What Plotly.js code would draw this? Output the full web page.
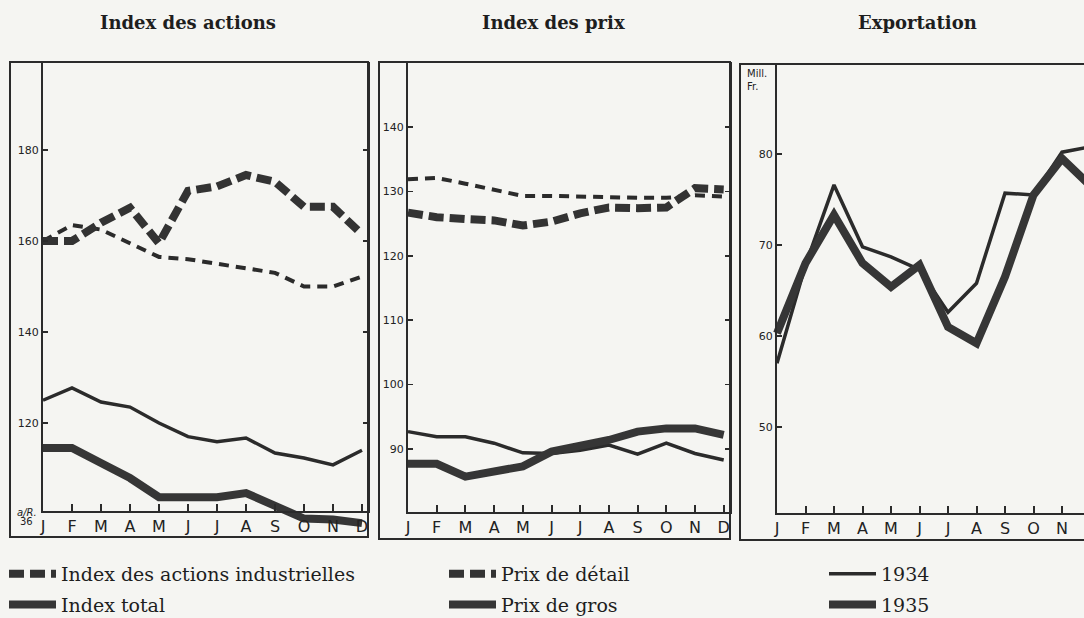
<!DOCTYPE html>
<html>
<head>
<meta charset="utf-8">
<script src="https://cdn.plot.ly/plotly-3.0.1.min.js"></script>
<style>
html,body{margin:0;padding:0;background:#f5f5f2;}
#chart{width:1084px;height:618px;}
</style>
</head>
<body>
<div id="chart"></div>
<script>
// ---------- data ----------
const months = ['J','F','M','A','M','J','J','A','S','O','N','D'];
const monthIdx = [0,1,2,3,4,5,6,7,8,9,10,11];

// Index des actions
const actionsInd1934 = [160, 163.5, 162.5, 159.5, 156.5, 156, 155, 153.8, 153, 150, 150, 152.2];
const actionsInd1935 = [160, 160, 164, 167.3, 159.5, 171, 172, 174.5, 173, 167.5, 167.5, 161.5];
const indexTotal1934 = [125, 127.7, 124.6, 123.5, 120, 117, 115.9, 116.7, 113.4, 112.3, 110.8, 114];
const indexTotal1935 = [114.5, 114.5, 111.2, 107.9, 103.7, 103.7, 103.7, 104.6, 102, 99, 98.8, 98];

// Index des prix
const prixDetail1934 = [131.9, 132.1, 131.2, 130.2, 129.3, 129.3, 129.2, 129, 129, 129, 129.4, 129.2];
const prixDetail1935 = [126.7, 126, 125.7, 125.5, 124.7, 125.3, 126.6, 127.5, 127.4, 127.5, 130.5, 130.3];
const prixGros1934 = [92.7, 91.9, 91.9, 90.9, 89.4, 89.3, 89.8, 90.6, 89.2, 90.9, 89.3, 88.3];
const prixGros1935 = [87.7, 87.7, 85.7, 86.5, 87.3, 89.6, 90.4, 91.4, 92.7, 93.2, 93.2, 92.2];

// Exportation (Mill. Fr.)
const export1934 = [57, 67.8, 76.6, 69.8, 68.7, 67.3, 62.6, 65.8, 75.7, 75.5, 80.2, 80.8];
const export1935 = [60.3, 68, 73.3, 68, 65.4, 67.8, 61, 59.2, 66.5, 75.5, 79.5, 76.5];

const ticksActions = [120, 140, 160, 180];
const ticksPrix = [90, 100, 110, 120, 130, 140];
const ticksExport = [50, 60, 70, 80];

const titles = ['Index des actions', 'Index des prix', 'Exportation'];
const legendNames = {
  actions: 'Index des actions industrielles',
  total: 'Index total',
  detail: 'Prix de détail',
  gros: 'Prix de gros',
  y1934: '1934',
  y1935: '1935'
};

// ---------- geometry (pixels of the 1084x618 picture) ----------
const W = 1084, H = 618;
const fx = p => p / W;
const fy = p => 1 - p / H;

const panels = [
  {box:[10,368,62,537], corner:[43,511], x0:43, dx:29, yRefPx:150, yRefVal:180, ppu:4.55, yt:ticksActions, mirror:true, titleX:188},
  {box:[379,730,62,539], corner:[408,512], x0:408, dx:28.7, yRefPx:127, yRefVal:140, ppu:6.44, yt:ticksPrix, mirror:true, titleX:553},
  {box:[740,1100,64,540], corner:[777,513], x0:777, dx:28.5, yRefPx:154, yRefVal:80, ppu:9.1, yt:ticksExport, mirror:false, titleX:917}
];

const INK = '#2b2b2b';
const thickSolid = {color:'#363636', width:8};
const thinSolid = {color:INK, width:3.5};
const thickDash = {color:'#333', width:8, dash:'15px,6px'};
const thinDash = {color:INK, width:4, dash:'10px,7px'};

const layout = {
  width: W, height: H,
  margin: {l:0, r:0, t:0, b:0, autoexpand:false},
  paper_bgcolor: '#f5f5f2',
  plot_bgcolor: 'rgba(0,0,0,0)',
  showlegend: true,
  shapes: [],
  annotations: []
};

const axisTraces = [];

panels.forEach((p, i) => {
  const m = px => (px - p.x0) / p.dx;
  const v = py => p.yRefVal - (py - p.yRefPx) / p.ppu;
  const xr = Math.min(p.box[1], W);
  const a = i === 0 ? '' : String(i + 1);
  const b = String(i + 4);
  // data axes (invisible, full box)
  layout['xaxis' + a] = {domain:[fx(p.box[0]), fx(xr)], range:[m(p.box[0]), m(xr)], visible:false, anchor:'y' + a, fixedrange:true};
  layout['yaxis' + a] = {domain:[fy(p.box[3]), fy(p.box[2])], range:[v(p.box[3]), v(p.box[2])], visible:false, anchor:'x' + a, fixedrange:true};
  // drawn axes (L shape)
  layout['xaxis' + b] = {
    domain:[fx(p.corner[0]), fx(xr)], range:[0, m(xr)], anchor:'y' + b,
    showline:true, linecolor:INK, linewidth:2, showgrid:false, zeroline:false,
    ticks:'inside', ticklen:7, tickwidth:2, tickcolor:INK,
    tickmode:'array', tickvals:monthIdx, ticktext:months,
    tickfont:{family:'DejaVu Sans', size:16, color:'#222'}, fixedrange:true
  };
  layout['yaxis' + b] = {
    domain:[fy(p.corner[1]), fy(p.box[2])], range:[v(p.corner[1]), v(p.box[2])], anchor:'x' + b,
    showline:true, linecolor:INK, linewidth:2, showgrid:false, zeroline:false,
    ticks:'inside', ticklen:5, tickwidth:1.5, tickcolor:INK,
    tickmode:'array', tickvals:p.yt, mirror: p.mirror ? 'ticks' : false,
    tickfont:{family:'DejaVu Sans', size:11, color:'#222'}, fixedrange:true
  };
  // empty trace so the axis subplot is drawn
  axisTraces.push({x:[], y:[], xaxis:'x' + b, yaxis:'y' + b, mode:'lines', showlegend:false, hoverinfo:'skip'});
  layout.shapes.push({type:'rect', xref:'paper', yref:'paper', x0:fx(p.box[0]), x1:fx(p.box[1]), y0:fy(p.box[3]), y1:fy(p.box[2]), line:{color:INK, width:2}});
  layout.annotations.push({text:'<b>' + titles[i] + '</b>', xref:'paper', yref:'paper', x:fx(p.titleX), y:fy(22), xanchor:'center', yanchor:'middle', showarrow:false, font:{family:'DejaVu Serif', size:18, color:'#1e1e1e'}});
});

layout.annotations.push({text:'<i>a/R.</i>', xref:'paper', yref:'paper', x:fx(27), y:fy(512), xanchor:'center', yanchor:'middle', showarrow:false, font:{family:'DejaVu Sans', size:10, color:'#222'}});
layout.annotations.push({text:'36', xref:'paper', yref:'paper', x:fx(26), y:fy(521), xanchor:'center', yanchor:'middle', showarrow:false, font:{family:'DejaVu Sans', size:10, color:'#222'}});
layout.annotations.push({text:'Mill.<br>Fr.', xref:'paper', yref:'paper', x:fx(745), y:fy(66), xanchor:'left', yanchor:'top', align:'left', showarrow:false, font:{family:'DejaVu Sans', size:10, color:'#222'}});

const legendBase = {xanchor:'left', yanchor:'top', bgcolor:'rgba(0,0,0,0)', borderwidth:0, itemwidth:47, tracegroupgap:3, traceorder:'grouped',
  font:{family:'DejaVu Serif', size:19, color:'#1e1e1e'}};
layout.legend = Object.assign({}, legendBase, {x:fx(4), y:fy(555)});
layout.legend2 = Object.assign({}, legendBase, {x:fx(444), y:fy(555)});
layout.legend3 = Object.assign({}, legendBase, {x:fx(824), y:fy(555)});

const traces = [
  {x:monthIdx, y:actionsInd1934, xaxis:'x', yaxis:'y', mode:'lines', line:thinDash, showlegend:false, hoverinfo:'skip'},
  {x:monthIdx, y:actionsInd1935, xaxis:'x', yaxis:'y', mode:'lines', line:thickDash, name:legendNames.actions, legend:'legend', legendgroup:'a1'},
  {x:monthIdx, y:indexTotal1934, xaxis:'x', yaxis:'y', mode:'lines', line:thinSolid, showlegend:false, hoverinfo:'skip'},
  {x:monthIdx, y:indexTotal1935, xaxis:'x', yaxis:'y', mode:'lines', line:thickSolid, name:legendNames.total, legend:'legend', legendgroup:'a2'},

  {x:monthIdx, y:prixDetail1934, xaxis:'x2', yaxis:'y2', mode:'lines', line:thinDash, showlegend:false, hoverinfo:'skip'},
  {x:monthIdx, y:prixDetail1935, xaxis:'x2', yaxis:'y2', mode:'lines', line:thickDash, name:legendNames.detail, legend:'legend2', legendgroup:'b1'},
  {x:monthIdx, y:prixGros1934, xaxis:'x2', yaxis:'y2', mode:'lines', line:thinSolid, showlegend:false, hoverinfo:'skip'},
  {x:monthIdx, y:prixGros1935, xaxis:'x2', yaxis:'y2', mode:'lines', line:thickSolid, name:legendNames.gros, legend:'legend2', legendgroup:'b2'},

  {x:monthIdx, y:export1934, xaxis:'x3', yaxis:'y3', mode:'lines', line:thinSolid, name:legendNames.y1934, legend:'legend3', legendgroup:'c1'},
  {x:monthIdx, y:export1935, xaxis:'x3', yaxis:'y3', mode:'lines', line:thickSolid, name:legendNames.y1935, legend:'legend3', legendgroup:'c2'}
].concat(axisTraces);

Plotly.newPlot('chart', traces, layout, {staticPlot:true, displayModeBar:false});
</script>
</body>
</html>
